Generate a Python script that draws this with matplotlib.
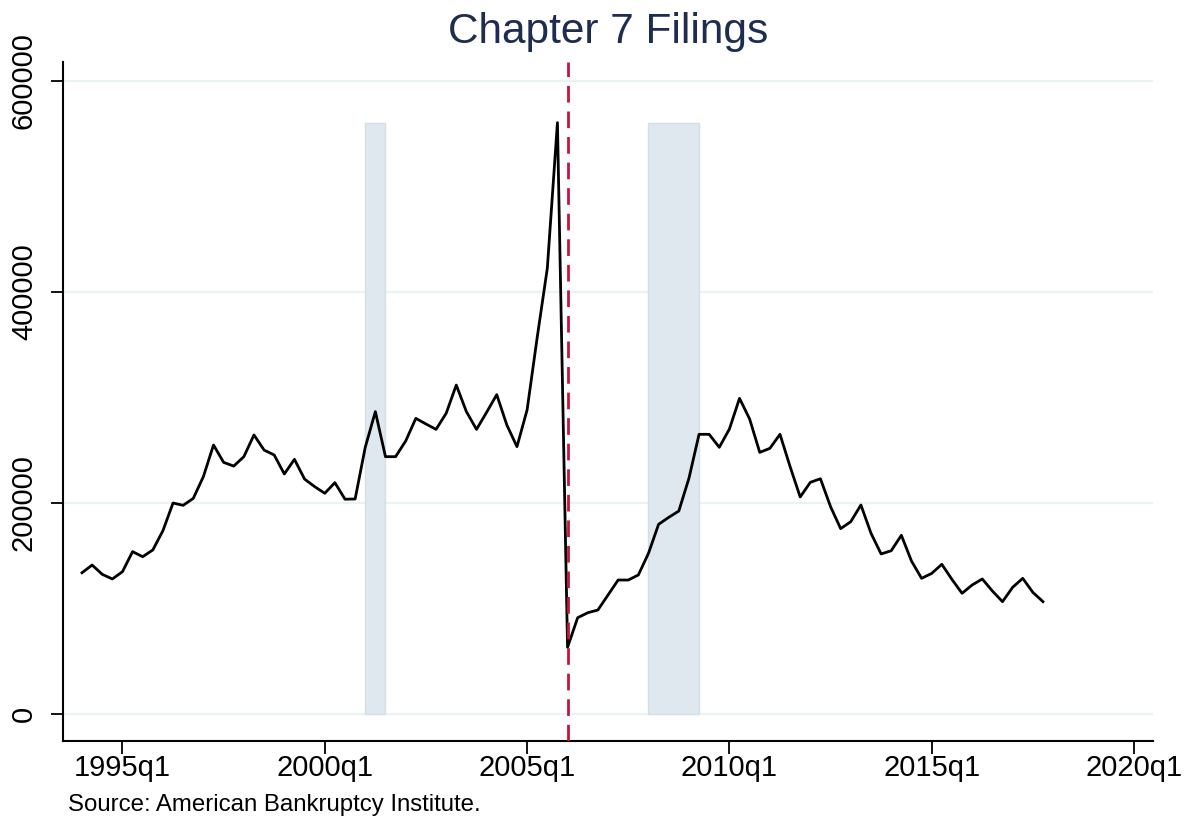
"""Chapter 7 filings, quarterly, with recession shading and the 2005 reform line."""

import matplotlib

matplotlib.use("Agg")
import matplotlib.pyplot as plt
import pandas as pd

plt.rcParams["font.family"] = ["Liberation Sans", "DejaVu Sans"]

# quarterly Chapter 7 filings, 1994q1 .. 2017q4
START_QUARTER = "1994Q1"
filings = [
    133900, 141200, 132400, 128000,
    134900, 153900, 149100, 155500,
    173800, 200000, 197800, 204400,
    225000, 255000, 238500, 235000,
    243900, 264500, 250200, 245500,
    227500, 241400, 222700, 215500,
    209200, 219300, 203600, 203800,
    252800, 286600, 243900, 243900,
    258800, 280200, 274900, 269800,
    285000, 311800, 286600, 269800,
    286000, 302700, 273900, 253400,
    288200, 357000, 422500, 560500,
    63200, 91300, 96000, 98600,
    112800, 127000, 127000, 131800,
    152300, 179800, 186400, 192400,
    223400, 265100, 265100, 252800,
    270100, 299200, 279600, 248000,
    251800, 265100, 234500, 205700,
    219600, 223000, 196500, 175700,
    182300, 198100, 171300, 151700,
    154800, 169400, 145000, 128600,
    133300, 141900, 127600, 114400,
    122300, 128000, 116600, 106500,
    120100, 128600, 115300, 106500,
]

# recessions (start quarter, end quarter) and the BAPCPA line
recessions = [("2001Q1", "2001Q3"), ("2008Q1", "2009Q2")]
reform_quarter = "2006Q1"

x_tick_years = [1995, 2000, 2005, 2010, 2015, 2020]
y_ticks = [0, 200000, 400000, 600000]

TITLE_COLOR = "#1e2c50"
GRID_COLOR = "#eaf2f3"
SHADE_COLOR = "#dfe8ee"
SHADE_EDGE = "#d3dfe7"
REFORM_COLOR = "#c8143c"


def q_to_year(q: str) -> float:
    p = pd.Period(q, freq="Q")
    return p.year + (p.quarter - 1) / 4


def main() -> None:
    periods = pd.period_range(START_QUARTER, periods=len(filings), freq="Q")
    x = [p.year + (p.quarter - 1) / 4 for p in periods]

    fig = plt.figure(figsize=(11.93, 8.22), dpi=100)
    ax = fig.add_axes([0.0528, 0.0985, 0.9137, 0.8261])

    for yv in y_ticks:
        ax.axhline(yv, color=GRID_COLOR, lw=1.6, zorder=0)

    peak = max(filings)
    for s, e in recessions:
        ax.fill_between([q_to_year(s), q_to_year(e)], 0, peak,
                        facecolor=SHADE_COLOR, edgecolor=SHADE_EDGE, lw=1.0, zorder=1)

    ax.plot(x, filings, color="black", lw=2.0, zorder=3)
    ax.axvline(q_to_year(reform_quarter), color=REFORM_COLOR, lw=2.0,
               dashes=(6.0, 3.2), zorder=4)

    ax.set_xlim(1993.53, 2020.47)
    ax.set_ylim(-25600, 618000)
    ax.set_xticks(x_tick_years)
    ax.set_xticklabels([f"{y}q1" for y in x_tick_years])
    ax.set_yticks(y_ticks)
    ax.set_yticklabels([str(v) for v in y_ticks], rotation=90, va="center")

    for side in ("top", "right"):
        ax.spines[side].set_visible(False)
    for side in ("left", "bottom"):
        ax.spines[side].set_linewidth(1.5)
    ax.tick_params(axis="both", direction="out", length=9, width=1.3,
                   labelsize=21, colors="black")
    ax.tick_params(axis="y", pad=9)
    ax.tick_params(axis="x", pad=0.5)

    fig.text(0.5097, 0.961, "Chapter 7 Filings", ha="center", va="center",
             fontsize=30.5, color=TITLE_COLOR)
    fig.text(0.057, 0.0207, "Source: American Bankruptcy Institute.",
             ha="left", va="center", fontsize=17.3, color="black")

    fig.savefig("out.png", dpi=100)
    plt.close(fig)


if __name__ == "__main__":
    main()
